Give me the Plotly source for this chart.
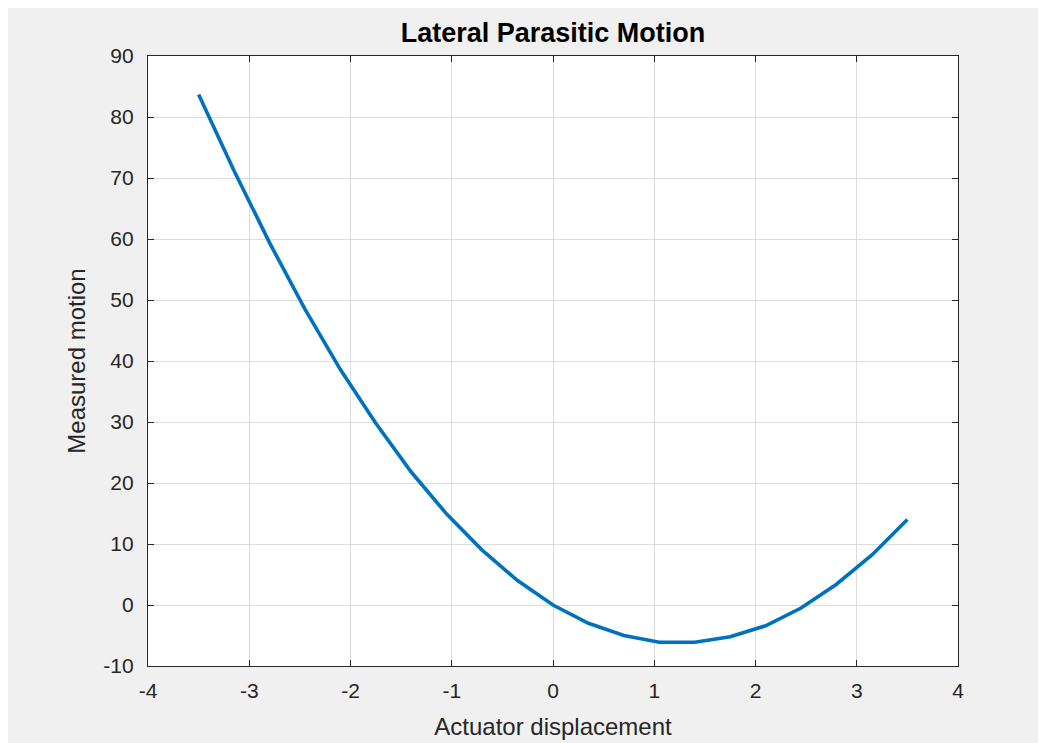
import plotly.graph_objects as go

# Data
actuator_displacement = [-3.5, -3.15, -2.8, -2.45, -2.1, -1.75, -1.4, -1.05, -0.7, -0.35, 0.0,
                         0.35, 0.7, 1.05, 1.4, 1.75, 2.1, 2.45, 2.8, 3.15, 3.5]
measured_motion = [83.7, 71.2, 59.4, 48.5, 38.6, 29.8, 21.8, 14.9, 9.0, 4.0, 0.0,
                   -3.0, -5.0, -6.1, -6.1, -5.2, -3.4, -0.5, 3.4, 8.2, 14.0]

x_tick_vals = [-4, -3, -2, -1, 0, 1, 2, 3, 4]
x_tick_text = ["-4", "-3", "-2", "-1", "0", "1", "2", "3", "4"]
y_tick_vals = [-10, 0, 10, 20, 30, 40, 50, 60, 70, 80, 90]
y_tick_text = ["-10", "0", "10", "20", "30", "40", "50", "60", "70", "80", "90"]

FONT = "Liberation Sans, Arial, Helvetica, sans-serif"

fig = go.Figure()
fig.add_trace(go.Scatter(
    x=actuator_displacement, y=measured_motion, mode="lines",
    line=dict(color="#0072BD", width=3.6), showlegend=False,
))

axis_common = dict(
    showline=True, linecolor="#262626", linewidth=1.3, mirror="allticks",
    ticks="inside", ticklen=6, tickcolor="#262626", tickwidth=1.3,
    showgrid=True, gridcolor="#dcdcdc", gridwidth=1, zeroline=False,
    automargin=False,
    tickfont=dict(family=FONT, size=21, color="#262626"),
)

fig.update_xaxes(range=[-4, 4], tickvals=x_tick_vals, ticktext=x_tick_text,
                 ticklabelstandoff=6,
                 title=dict(text="Actuator displacement", standoff=16,
                            font=dict(family=FONT, size=24, color="#262626")),
                 **axis_common)
fig.update_yaxes(range=[-10, 90], tickvals=y_tick_vals, ticktext=y_tick_text,
                 ticklabelstandoff=9,
                 title=dict(text="Measured motion", standoff=10,
                            font=dict(family=FONT, size=24, color="#262626")),
                 **axis_common)

fig.update_layout(
    width=1038, height=735,
    margin=dict(l=140, r=88, t=48, b=77),
    paper_bgcolor="#f0f0f0", plot_bgcolor="#ffffff",
    title=dict(text="<b>Lateral Parasitic Motion</b>", x=0.5, xanchor="center",
               xref="paper", y=1 - 25 / 735, yanchor="middle",
               font=dict(family=FONT, size=27, color="#000000")),
)

fig.write_html("out.html")
